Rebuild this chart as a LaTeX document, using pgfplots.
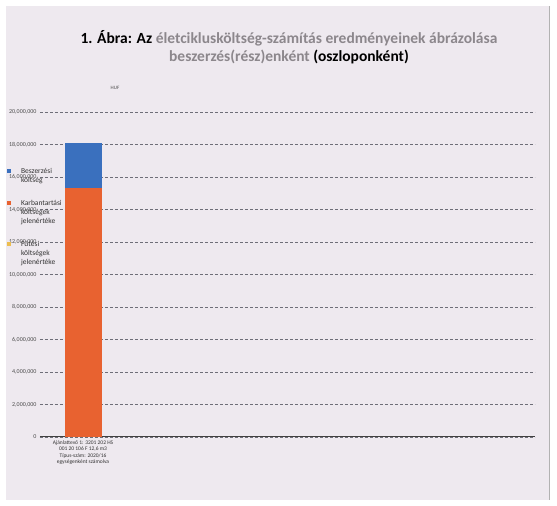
\documentclass[border=0pt]{standalone}
\usepackage{fontspec}
\setmainfont{Carlito}
\usepackage{pgfplots}
\pgfplotsset{compat=1.18}

\definecolor{bg}{RGB}{238,233,239}
\definecolor{kek}{RGB}{58,112,190}
\definecolor{narancs}{RGB}{232,98,48}
\definecolor{sarga}{RGB}{236,190,80}
\definecolor{racs}{RGB}{110,110,120}
\definecolor{cimszurke}{RGB}{140,135,140}

\newcommand{\sorok}[1]{\renewcommand{\arraystretch}{1}\begin{tabular}[b]{@{}l@{}}#1\end{tabular}}

\begin{document}
\begin{tikzpicture}[x=1pt,y=1pt]
\useasboundingbox (0,0) rectangle (557,506);
\fill[white] (0,0) rectangle (557,506);
\fill[bg] (6,6) rectangle (549,500);
\draw[gray!60, line width=1pt] (549,6) -- (549,500);

% cim
\node[font=\bfseries\fontsize{15.5}{18}\selectfont, align=center] at (289,459)
  {1. Ábra: Az \textcolor{cimszurke}{életciklusköltség-számítás eredményeinek ábrázolása}\\
   \textcolor{cimszurke}{beszerzés(rész)enként} (oszloponként)};
\node[font=\fontsize{5}{6}\selectfont, text=black!70] at (115,418) {HUF};

\begin{axis}[
    at={(40pt,69pt)}, anchor=south west,
    scale only axis,
    width  = 495pt,
    height = 325pt,
    ybar stacked,
    bar width = 37pt,
    xmin = -1, xmax = 10.51,
    ymin = 0, ymax = 20000000,
    ytick distance = 2000000,
    scaled y ticks = false,
    /pgf/number format/.cd, fixed, 1000 sep={,}, assume math mode=true,
    /pgfplots/.cd,
    xtick = {0},
    xticklabels = {{Ajánlattevő 1: 3201 202 HS\\001 20 106 F 12{,}6 m3\\Típus-szám: 2020/16\\egységenként számolva}},
    x tick label style = {align=center, font=\fontsize{5.5}{6.5}\selectfont, text=black!80},
    y tick label style = {font=\fontsize{6}{7}\selectfont, text=black!70},
    major tick length = 0pt,
    axis line style = {draw=none},
    ymajorgrids,
    grid style = {densely dashed, racs, line width=0.6pt},
    reverse legend,
    legend image code/.code = {\fill[#1, draw=none] (0pt,0pt) rectangle (4pt,4pt);},
    legend style = {
        at = {(-0.067,0.837)},
        anchor = north west,
        draw = none, fill = none,
        font = \fontsize{7.5}{9}\selectfont,
        text = black!80,
        cells = {anchor=base west},
        row sep = 11pt,
        inner sep = 0pt,
        column sep = 8pt,
    },
]

    \addlegendimage{fill=sarga, draw=none, yshift=18pt}
    \addlegendentry{\sorok{Fűtési\\költségek\\jelenértéke}}

    \addplot[fill=narancs, draw=none, legend image post style={yshift=18pt}] coordinates {(0,15300000)};
    \addlegendentry{\sorok{Karbantartási\\költségek\\jelenértéke}}

    \addplot[fill=kek, draw=none, legend image post style={yshift=9pt}] coordinates {(0,2800000)};
    \addlegendentry{\sorok{Beszerzési\\költség}}

    % vizszintes tengely
    \draw[black!75, line width=1.2pt] (axis cs:-1,0) -- (axis cs:10.51,0);
\end{axis}
\end{tikzpicture}
\end{document}
